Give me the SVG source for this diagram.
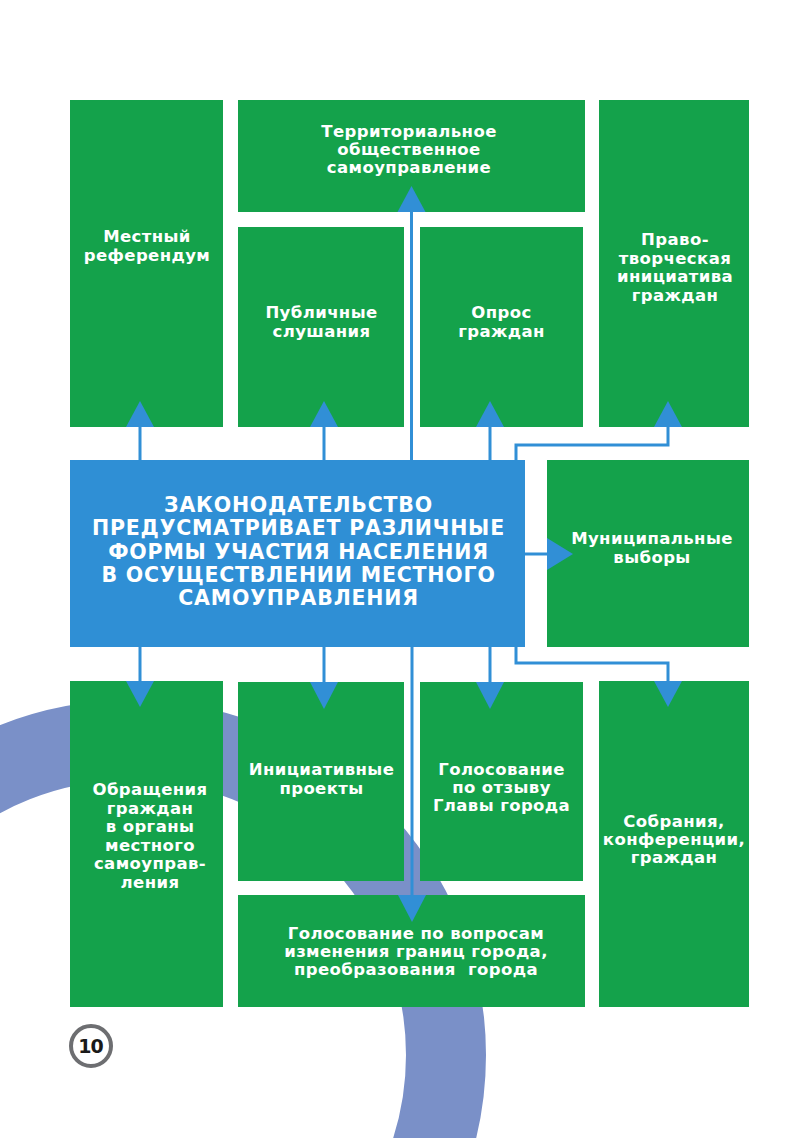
<svg xmlns="http://www.w3.org/2000/svg" width="799" height="1138" viewBox="0 0 799 1138">
<style>
.box{fill:#14a24b}
.main{fill:#2f8fd5}
.t{font-family:"DejaVu Sans","Liberation Sans",sans-serif;font-weight:bold;font-size:16.5px;fill:#fff;text-anchor:middle;letter-spacing:0.4px}
.h{font-size:20.5px;letter-spacing:0.8px}
.ln{fill:none;stroke:#318fd6;stroke-width:3}
.ah{fill:#318fd6}
</style>
<rect width="799" height="1138" fill="#fff"/>
<g id="decor">
<circle cx="131" cy="1055" r="315" fill="none" stroke="#7a90c8" stroke-width="80"/>
</g>
<g id="node-referendum"><rect class="box" x="70" y="100" width="153" height="327"/>
<text class="t" x="147" y="242">Местный</text><text class="t" x="147" y="260.5">референдум</text></g>
<g id="node-tos"><rect class="box" x="238" y="100" width="347" height="112"/>
<text class="t" x="409" y="137">Территориальное</text><text class="t" x="409" y="155">общественное</text><text class="t" x="409" y="173">самоуправление</text></g>
<g id="node-hearings"><rect class="box" x="238" y="227" width="166" height="200"/>
<text class="t" x="321.5" y="318">Публичные</text><text class="t" x="321.5" y="336.5">слушания</text></g>
<g id="node-survey"><rect class="box" x="420" y="227" width="163" height="200"/>
<text class="t" x="501.5" y="318">Опрос</text><text class="t" x="501.5" y="336.5">граждан</text></g>
<g id="node-lawmaking"><rect class="box" x="599" y="100" width="150" height="327"/>
<text class="t" x="675" y="245">Право-</text><text class="t" x="675" y="263.5">творческая</text><text class="t" x="675" y="282">инициатива</text><text class="t" x="675" y="300.5">граждан</text></g>
<g id="node-main"><rect class="main" x="70" y="460" width="455" height="187"/>
<text class="t h" x="298.5" y="512">ЗАКОНОДАТЕЛЬСТВО</text>
<text class="t h" x="298.5" y="535">ПРЕДУСМАТРИВАЕТ РАЗЛИЧНЫЕ</text>
<text class="t h" x="298.5" y="558.5">ФОРМЫ УЧАСТИЯ НАСЕЛЕНИЯ</text>
<text class="t h" x="298.5" y="582">В ОСУЩЕСТВЛЕНИИ МЕСТНОГО</text>
<text class="t h" x="298.5" y="605">САМОУПРАВЛЕНИЯ</text></g>
<g id="node-elections"><rect class="box" x="547" y="460" width="202" height="187"/>
<text class="t" x="652" y="544">Муниципальные</text><text class="t" x="652" y="562.5">выборы</text></g>
<g id="node-appeals"><rect class="box" x="70" y="681" width="153" height="326"/>
<text class="t" x="150" y="795">Обращения</text><text class="t" x="150" y="813.5">граждан</text><text class="t" x="150" y="832">в органы</text><text class="t" x="150" y="850.5">местного</text><text class="t" x="150" y="869">самоуправ-</text><text class="t" x="150" y="887.5">ления</text></g>
<g id="node-initiative"><rect class="box" x="238" y="682" width="166" height="199"/>
<text class="t" x="321.5" y="775">Инициативные</text><text class="t" x="321.5" y="793.5">проекты</text></g>
<g id="node-recall"><rect class="box" x="420" y="682" width="163" height="199"/>
<text class="t" x="501.5" y="774.5">Голосование</text><text class="t" x="501.5" y="792.5">по отзыву</text><text class="t" x="501.5" y="811">Главы города</text></g>
<g id="node-meetings"><rect class="box" x="599" y="681" width="150" height="326"/>
<text class="t" x="674" y="827">Собрания,</text><text class="t" x="674" y="845">конференции,</text><text class="t" x="674" y="863">граждан</text></g>
<g id="node-borders"><rect class="box" x="238" y="895" width="347" height="112"/>
<text class="t" x="416" y="938.5">Голосование по вопросам</text><text class="t" x="416" y="957">изменения границ города,</text><text class="t" x="416" y="975" xml:space="preserve">преобразования  города</text></g>
<g id="connectors">
<path class="ln" d="M140 460V420M324 460V420M490 460V420M411.5 460V200M516 460V445H668V420"/>
<path class="ln" d="M140 647V690M324 647V690M490 647V690M412 647V905M516 647V663H668V690M525 554H555"/>
<polygon class="ah" points="126,427 154,427 140,401"/>
<polygon class="ah" points="310,427 338,427 324,401"/>
<polygon class="ah" points="476,427 504,427 490,401"/>
<polygon class="ah" points="654,427 682,427 668,401"/>
<polygon class="ah" points="397.5,212 425.5,212 411.5,186"/>
<polygon class="ah" points="126,681 154,681 140,707"/>
<polygon class="ah" points="310,682 338,682 324,709"/>
<polygon class="ah" points="476,682 504,682 490,709"/>
<polygon class="ah" points="654,681 682,681 668,707"/>
<polygon class="ah" points="398,895 426,895 412,922"/>
<polygon class="ah" points="547,538 547,570 573,554"/>
</g>
<g id="page-number">
<circle cx="91" cy="1046" r="20" fill="#fff" stroke="#6d6e71" stroke-width="4"/>
<text x="90.5" y="1053" font-family="DejaVu Sans, sans-serif" font-weight="bold" font-size="19" fill="#1a1a1a" text-anchor="middle" letter-spacing="-1">10</text>
</g>
</svg>
